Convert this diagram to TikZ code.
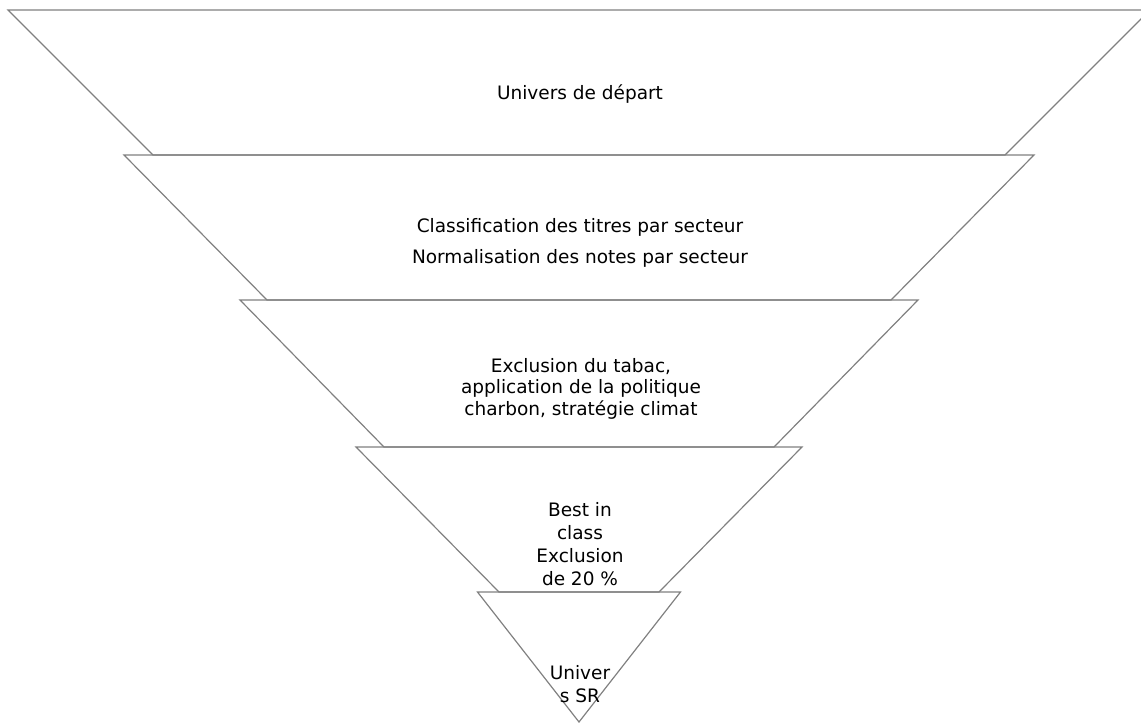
\documentclass[tikz,border=0pt]{standalone}
\usepackage{fontspec}
\setmainfont{DejaVu Sans}
\begin{document}
\begin{tikzpicture}[x=1pt,y=-1pt,line width=1.2pt,
  etage/.style={draw=black!50,line join=miter},
  txt/.style={inner sep=0pt,anchor=base,align=center,font=\fontsize{18.5}{#1}\selectfont}]
\useasboundingbox(0,0)rectangle(1141,723);
\foreach \ya/\yb/\ha/\hb in {10/155/571/426,155/300/455/312,300/447/339/195,447/592/223/80,592/722/101.5/0}
  \draw[etage](579-\ha,\ya)--(579+\ha,\ya)--(579+\hb,\yb)--(579-\hb,\yb)--cycle;
\node[txt=22](depart)at(580,99){Univers de départ};
\node[txt=31](classif)at(580,263){Classification des titres par secteur\\Normalisation des notes par secteur};
\node[txt=21.5](exclu)at(581,415){Exclusion du tabac,\\application de la politique\\charbon, stratégie climat};
\node[txt=22.7](best)at(580,585){Best in\\class\\Exclusion\\de 20 \%};
\node[txt=23](sr)at(580,702){Univer\\s SR};
\end{tikzpicture}
\end{document}
